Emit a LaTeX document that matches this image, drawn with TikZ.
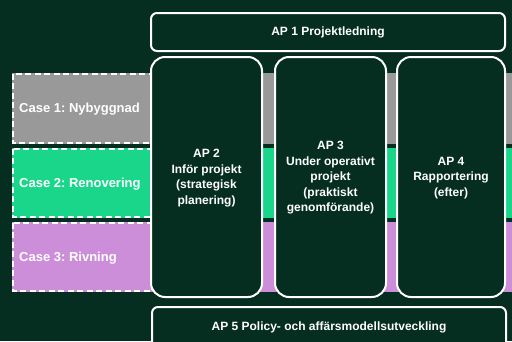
\documentclass[tikz,border=0pt]{standalone}
\usepackage{fontspec}
\setmainfont{Liberation Sans}
\frenchspacing
\definecolor{bgc}{HTML}{062E20}
\definecolor{grayc}{HTML}{999999}
\definecolor{greenc}{HTML}{19D68B}
\definecolor{violetc}{HTML}{CC8ED8}
\begin{document}
\begin{tikzpicture}[x=1pt,y=-1pt,
  dashbox/.style={draw=white,line width=1.6pt,dash pattern=on 6pt off 3.5pt},
  apbox/.style={draw=white,line width=2pt,fill=bgc,rounded corners=14pt},
  aptext/.style={text=white,font=\fontsize{12}{15.5}\selectfont\bfseries,align=center},
  caselabel/.style={text=white,font=\fontsize{13}{15}\selectfont\bfseries,anchor=west,inner sep=0pt}]
\fill[bgc] (0,0) rectangle (512,341);
\useasboundingbox (0,0) rectangle (512,341);
% bands
\fill[grayc] (12,73) rectangle (512,144);
\fill[greenc] (12,148) rectangle (512,218);
\fill[violetc] (12,222) rectangle (512,292);
\draw[dashbox] (12.8,73.8) rectangle (152,143.2);
\draw[dashbox] (12.8,148.8) rectangle (152,217.2);
\draw[dashbox] (12.8,222.8) rectangle (152,291.2);
\node[caselabel] (c1) at (19,109) {Case 1: Nybyggnad};
\node[caselabel] (c2) at (19,184) {Case 2: Renovering};
\node[caselabel] (c3) at (19,258) {Case 3: Rivning};
% AP boxes
\draw[apbox,rounded corners=6pt] (151,13) rectangle (505,51);
\node[aptext] (ap1) at (328,32) {AP 1 Projektledning};
\draw[apbox] (151,57) rectangle (262,297);
\draw[apbox] (275,57) rectangle (386,297);
\draw[apbox] (397,57) rectangle (505,297);
\draw[apbox,rounded corners=6pt] (152,307) rectangle (506,352);
\node[aptext] (ap2) at (206.5,178) {AP 2\\Inför projekt\\(strategisk\\planering)};
\node[aptext] (ap3) at (330.5,178) {AP 3\\Under operativt\\projekt\\(praktiskt\\genomförande)};
\node[aptext] (ap4) at (451,178) {AP 4\\Rapportering\\(efter)};
\node[aptext] (ap5) at (329,327) {AP 5 Policy- och affärsmodellsutveckling};
\end{tikzpicture}
\end{document}
